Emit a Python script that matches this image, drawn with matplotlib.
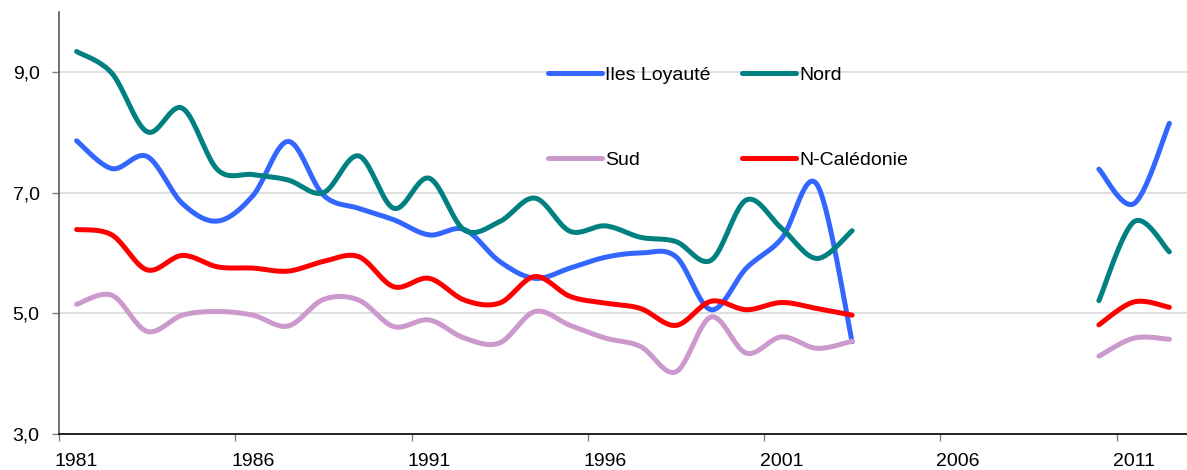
import numpy as np
import matplotlib
matplotlib.use("Agg")
import matplotlib.pyplot as plt

plt.rcParams['font.family'] = ['Liberation Sans', 'DejaVu Sans']

years = list(range(1981, 2013))
N = None
iles = [7.86, 7.40, 7.60, 6.82, 6.53, 6.95, 7.85, 6.96, 6.74, 6.55, 6.30, 6.39,
        5.86, 5.58, 5.75, 5.93, 6.00, 5.94, 5.06, 5.75, 6.24, 7.14, 4.53,
        N, N, N, N, N, N, 7.39, 6.82, 8.15]
nord = [9.34, 8.98, 8.01, 8.40, 7.38, 7.30, 7.21, 7.00, 7.61, 6.74, 7.24, 6.38,
        6.52, 6.91, 6.36, 6.45, 6.26, 6.19, 5.88, 6.88, 6.41, 5.91, 6.37,
        N, N, N, N, N, N, 5.21, 6.52, 6.02]
sud = [5.15, 5.30, 4.70, 4.97, 5.03, 4.97, 4.79, 5.23, 5.22, 4.78, 4.89, 4.59,
       4.51, 5.03, 4.80, 4.59, 4.45, 4.03, 4.94, 4.34, 4.61, 4.42, 4.54,
       N, N, N, N, N, N, 4.29, 4.59, 4.57]
ncal = [6.39, 6.30, 5.72, 5.96, 5.77, 5.75, 5.70, 5.86, 5.94, 5.44, 5.58, 5.22,
        5.17, 5.61, 5.28, 5.17, 5.08, 4.80, 5.20, 5.06, 5.18, 5.08, 4.97,
        N, N, N, N, N, N, 4.81, 5.19, 5.10]

series = [
    ("Iles Loyauté", iles, "#3366FF"),
    ("Nord", nord, "#008080"),
    ("Sud", sud, "#CC99CC"),
    ("N-Calédonie", ncal, "#FF0000"),
]


def smooth(xs, ys, n=20):
    """Bezier smoothing like Excel's smoothed lines."""
    xs = np.asarray(xs, float)
    ys = np.asarray(ys, float)
    if len(xs) < 2:
        return xs, ys
    px = np.concatenate([[xs[0]], xs, [xs[-1]]])
    py = np.concatenate([[ys[0]], ys, [ys[-1]]])
    ox, oy = [], []
    t = np.linspace(0, 1, n, endpoint=False)
    for i in range(1, len(px) - 2):
        x0, x1, x2, x3 = px[i - 1], px[i], px[i + 1], px[i + 2]
        y0, y1, y2, y3 = py[i - 1], py[i], py[i + 1], py[i + 2]
        cx1 = x1 + (x2 - x0) / 6.0
        cy1 = y1 + (y2 - y0) / 6.0
        cx2 = x2 - (x3 - x1) / 6.0
        cy2 = y2 - (y3 - y1) / 6.0
        b0 = (1 - t) ** 3
        b1 = 3 * (1 - t) ** 2 * t
        b2 = 3 * (1 - t) * t ** 2
        b3 = t ** 3
        ox.extend(b0 * x1 + b1 * cx1 + b2 * cx2 + b3 * x2)
        oy.extend(b0 * y1 + b1 * cy1 + b2 * cy2 + b3 * y2)
    ox.append(xs[-1])
    oy.append(ys[-1])
    return np.array(ox), np.array(oy)


def segments(xs, ys):
    seg = []
    cur_x, cur_y = [], []
    for x, y in zip(xs, ys):
        if y is None:
            if cur_x:
                seg.append((cur_x, cur_y))
            cur_x, cur_y = [], []
        else:
            cur_x.append(x)
            cur_y.append(y)
    if cur_x:
        seg.append((cur_x, cur_y))
    return seg


W, H = 1187, 470
fig = plt.figure(figsize=(W / 100, H / 100), dpi=100)
ax = fig.add_axes([59 / W, (470 - 434) / H, (W - 59) / W, (434 - 11.7) / H])

handles = {}
for label, vals, col in series:
    for sx, sy in segments(years, vals):
        x, y = smooth(sx, sy)
        ln, = ax.plot(x, y, color=col, lw=3.6, solid_capstyle='round',
                      solid_joinstyle='round', zorder=3)
        handles.setdefault(label, ln)

ax.set_ylim(3, 10)
ax.set_xlim(1980.5, 1980.5 + (W - 59) / 35.25)
ax.set_yticks([3, 5, 7, 9])
ax.set_yticklabels(["3,0", "5,0", "7,0", "9,0"])
ax.yaxis.grid(True, color="#D9D9D9", lw=1.2, zorder=0)
ax.set_axisbelow(True)

tick_years = years[::5]
ax.set_xticks([y - 0.5 for y in tick_years])
ax.set_xticklabels([])
ax.set_xticks(tick_years, minor=True)
ax.set_xticklabels([str(y) for y in tick_years], minor=True)
ax.tick_params(axis='x', which='major', length=5, width=1, color='#808080', direction='out')
ax.tick_params(axis='x', which='minor', length=0, pad=14, labelsize=14)
ax.tick_params(axis='y', length=5, width=1, color='#808080', direction='out', labelsize=14, pad=9)

for s in ['top', 'right']:
    ax.spines[s].set_visible(False)
ax.spines['left'].set_color('#595959')
ax.spines['bottom'].set_color('#000000')
ax.spines['left'].set_linewidth(1.2)
ax.spines['bottom'].set_linewidth(1.2)

# column-major fill: col1 = Iles, Sud ; col2 = Nord, N-Calédonie
order = ["Iles Loyauté", "Sud", "Nord", "N-Calédonie"]
ax.legend([handles[k] for k in order], order, ncol=2, loc='upper left',
          bbox_to_anchor=(548 / W, 1 - 66 / H), bbox_transform=fig.transFigure,
          frameon=False, fontsize=14, handlelength=2.8, handletextpad=0.15,
          columnspacing=1.6, labelspacing=3.5, borderpad=0, borderaxespad=0)

fig.savefig("out.png", dpi=100)
